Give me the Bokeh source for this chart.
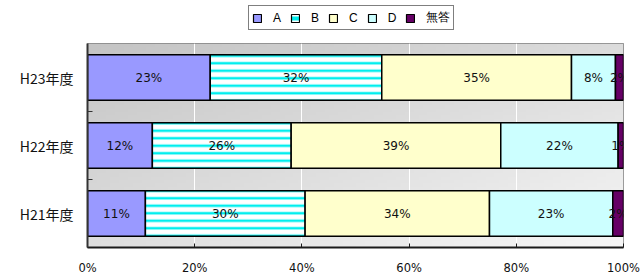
import numpy as np
from bokeh.plotting import figure
from bokeh.layouts import column
from bokeh.models import Range1d, FixedTicker, PrintfTickFormatter, Legend, LegendItem
from bokeh.core.properties import value
from bokeh.embed import file_html
from bokeh.resources import INLINE

# ---- data ----
categories = ["H23年度", "H22年度", "H21年度"]
series_names = ["A", "B", "C", "D", "無答"]
vals_A = [22.9, 12.1, 10.8]
vals_B = [32.0, 25.9, 29.8]
vals_C = [35.4, 39.1, 34.4]
vals_D = [8.2, 21.9, 23.0]
vals_N = [1.5, 1.0, 2.0]
labels_A = ["23%", "12%", "11%"]
labels_B = ["32%", "26%", "30%"]
labels_C = ["35%", "39%", "34%"]
labels_D = ["8%", "22%", "23%"]
labels_N = ["2%", "1%", "2%"]
x_ticks = [0, 20, 40, 60, 80, 100]

series_vals = [vals_A, vals_B, vals_C, vals_D, vals_N]
series_labels = [labels_A, labels_B, labels_C, labels_D, labels_N]
fills = ["#9999FF", "#FFFFFF", "#FFFFCC", "#CCFFFF", "#660066"]

n = len(categories)
ypos = [n - 0.5 - i for i in range(n)]  # top to bottom

LEG_H = 36
p = figure(width=640, height=277 - LEG_H, x_range=Range1d(0, 100), y_range=Range1d(0, n),
           output_backend="svg", toolbar_location=None,
           min_border_left=87, min_border_right=17, min_border_top=43 - LEG_H, min_border_bottom=28)
p.outline_line_color = "#808080"
p.outline_line_width = 1
p.background_fill_color = "#dddddd"

# gradient background
H, W = 60, 120
u = np.linspace(0, 1, W)[None, :]
v = np.linspace(0, 1, H)[:, None]  # 0 bottom -> 1 top
g = np.clip(246 - 24 * (1 - u) - 26 * v, 0, 255).astype(np.uint32)
img = (255 << 24) | (g << 16) | (g << 8) | g
p.image_rgba(image=[img.astype(np.uint32)], x=0, y=0, dw=100, dh=n, level="image")

# legend figure (proxy glyphs sit outside its visible range)
lg = figure(width=640, height=LEG_H, x_range=Range1d(0, 1), y_range=Range1d(0, 1),
            output_backend="svg", toolbar_location=None,
            min_border_left=0, min_border_right=0, min_border_top=0, min_border_bottom=0)
lg.axis.visible = False
lg.grid.visible = False
lg.outline_line_color = None

# bars
left = np.zeros(n)
leg_items = []
for k, (name, vals, labs, col) in enumerate(zip(series_names, series_vals, series_labels, fills)):
    vals = np.array(vals, dtype=float)
    right = left + vals
    kw = dict(fill_color=col, line_color="#000000", line_width=1.5)
    if name == "B":
        kw.update(hatch_pattern="horizontal_line", hatch_color="#00EEEE",
                  hatch_scale=7.5, hatch_weight=2.5)
    p.hbar(y=ypos, left=left.tolist(), right=right.tolist(), height=0.67, **kw)
    lkw = dict(kw)
    lkw["line_width"] = 1.2
    if name == "B":
        lkw.update(hatch_scale=9, hatch_weight=4)
    lr = lg.hbar(y=[-5], left=[-5], right=[-4], height=0.5, **lkw)
    leg_items.append(LegendItem(label=name, renderers=[lr]))
    p.text(x=((left + right) / 2).tolist(), y=ypos, text=labs,
           text_align="center", text_baseline="middle",
           text_font=value("DejaVu Sans"), text_font_size="12px", text_color="#111111")
    left = right

# axes
p.xaxis.ticker = FixedTicker(ticks=x_ticks)
p.xaxis.formatter = PrintfTickFormatter(format="%d%%")
p.xaxis.major_tick_in = 4
p.xaxis.major_tick_out = 0
p.xaxis.minor_tick_line_color = None
p.xaxis.axis_line_width = 2
p.xaxis.axis_line_color = "#1a1a1a"
p.xaxis.major_tick_line_color = "#1a1a1a"
p.xaxis.major_label_standoff = 13
p.xaxis.major_label_text_font = "DejaVu Sans"
p.xaxis.major_label_text_font_size = "11.5px"
p.xaxis.major_label_text_color = "#111111"

p.yaxis.ticker = FixedTicker(ticks=ypos, minor_ticks=[1, 2])
p.yaxis.major_label_overrides = {y: c for y, c in zip(ypos, categories)}
p.yaxis.major_tick_in = 0
p.yaxis.major_tick_out = 0
p.yaxis.minor_tick_in = 5
p.yaxis.minor_tick_out = 0
p.yaxis.minor_tick_line_color = "#333333"
p.yaxis.axis_line_width = 2
p.yaxis.axis_line_color = "#333333"
p.yaxis.major_label_standoff = 14
p.yaxis.major_label_text_font = "Noto Sans CJK JP"
p.yaxis.major_label_text_font_size = "14px"
p.yaxis.major_label_text_color = "#111111"

p.xgrid.ticker = FixedTicker(ticks=x_ticks)
p.xgrid.grid_line_color = "#ffffff"
p.xgrid.grid_line_width = 1
p.ygrid.grid_line_color = None

# frames of the two figures are aligned by the column layout (frame left at 87)
legend = Legend(items=leg_items, orientation="horizontal", location=(248 - 87, LEG_H - 30))
legend.border_line_color = "#000000"
legend.border_line_width = 1
legend.background_fill_color = "#ffffff"
legend.background_fill_alpha = 1
legend.label_text_font = "Liberation Sans"
legend.label_text_font_size = "12px"
legend.label_text_color = "#000000"
legend.glyph_width = 10
legend.glyph_height = 10
legend.label_standoff = 11
legend.label_width = 0
legend.spacing = 9
legend.padding = 3
legend.margin = 0
legend.label_height = 10
legend.label_text_baseline = "middle"
lg.add_layout(legend)

layout = column(lg, p, spacing=0)
open("out.html", "w").write(file_html(layout, INLINE))
